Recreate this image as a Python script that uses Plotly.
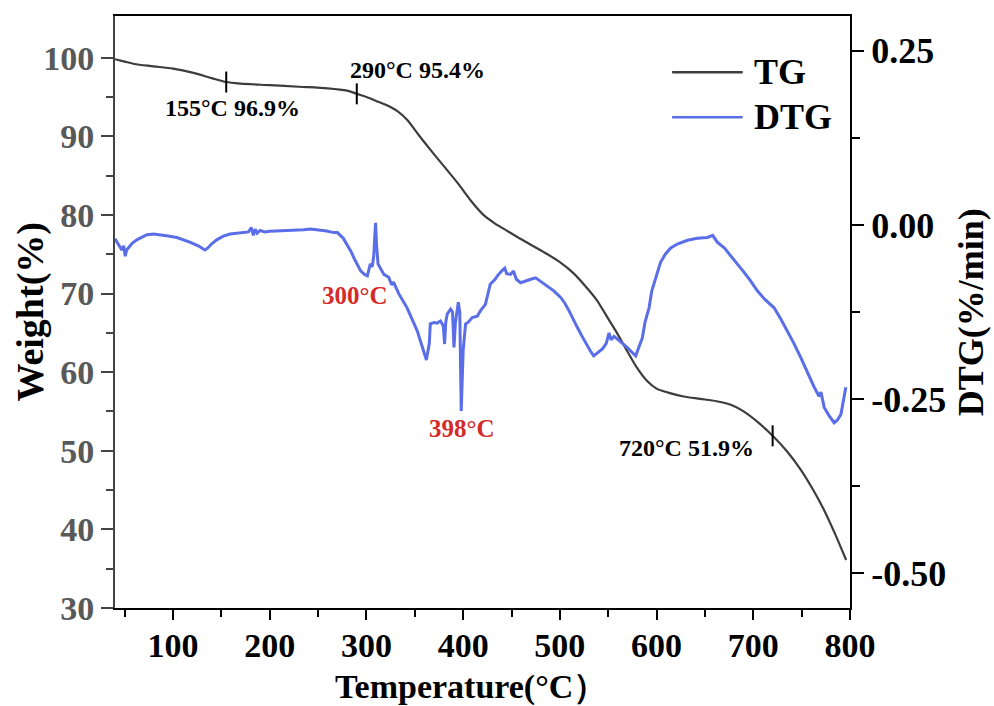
import plotly.graph_objects as go

# TG curve: temperature (°C) vs. residual weight (%)
tg_temp = [40, 50, 60, 80, 100, 120, 140, 155, 170, 200, 230, 260, 280, 290,
           300, 310, 320, 332, 342, 355, 366, 380, 394, 408, 421, 433, 445,
           460, 483, 500, 514, 526, 538, 550, 559, 570, 580, 590, 600, 612,
           628, 645, 662, 678, 690, 705, 720, 735, 749, 762, 773, 785, 796]
tg_weight = [99.8, 99.5, 99.2, 98.9, 98.6, 98.1, 97.4, 96.9, 96.7, 96.5, 96.3,
             96.1, 95.8, 95.4, 95.0, 94.5, 94.0, 93.2, 92.1, 90.0, 88.3, 86.2,
             84.1, 81.8, 80.0, 78.9, 78.0, 76.9, 75.3, 74.0, 72.6, 71.0, 69.2,
             66.8, 65.0, 62.6, 60.5, 58.9, 57.9, 57.4, 56.9, 56.6, 56.3, 55.8,
             55.0, 53.6, 51.9, 49.9, 47.6, 45.0, 42.5, 39.3, 36.1]

# DTG curve: temperature (°C) vs. rate of weight change (%/min)
dtg_temp = [40, 42, 45, 47, 49, 50.6, 52, 54, 58, 63, 68, 73, 80, 87, 95, 104,
            111, 118, 126, 133, 136, 140, 145.5, 152, 159, 166, 173, 178, 181,
            183, 185, 187, 190, 195, 200, 207.6, 215, 225, 235, 242, 250, 259,
            266, 270, 276, 280, 284, 288, 294, 298, 301, 304, 306, 307.5, 309.4,
            310.5, 312, 318, 323, 326, 328, 333.5, 342, 352.5, 358, 362, 365,
            366, 370, 373, 376.6, 379.5, 380.8, 382, 383.5, 387, 389, 390.5,
            392, 395, 396.5, 398, 400, 402.5, 405, 409.4, 414.6, 418, 423, 428,
            433, 436, 440, 443, 445, 449, 452, 455, 459.4, 465, 470, 475, 481,
            487, 494, 500.8, 505, 509.4, 513, 518, 523, 528.4, 532, 535, 540,
            544, 548, 550.8, 553, 556, 559.5, 565, 569.8, 574, 578.4, 581,
            585.3, 588, 592.2, 595, 599, 604, 609, 614.6, 622, 632, 642, 652.6,
            658, 663, 670, 676.7, 683, 690.5, 697, 704.4, 712, 721.5, 728,
            735.4, 742, 749, 756, 763, 768, 770, 773.3, 778, 783.6, 787, 790.6,
            793, 795.7]
dtg_rate = [-0.020, -0.025, -0.032, -0.036, -0.030, -0.045, -0.036, -0.033,
            -0.026, -0.021, -0.017, -0.014, -0.013, -0.014, -0.016, -0.018,
            -0.021, -0.025, -0.030, -0.036, -0.033, -0.027, -0.021, -0.016,
            -0.013, -0.012, -0.011, -0.010, -0.004, -0.015, -0.006, -0.012,
            -0.008, -0.010, -0.009, -0.0086, -0.009, -0.008, -0.007, -0.006,
            -0.007, -0.0086, -0.011, -0.011, -0.019, -0.028, -0.038, -0.050,
            -0.066, -0.071, -0.073, -0.056, -0.060, -0.045, 0.003, -0.030,
            -0.056, -0.071, -0.075, -0.086, -0.082, -0.099, -0.119, -0.152,
            -0.175, -0.194, -0.170, -0.142, -0.140, -0.141, -0.138, -0.145,
            -0.171, -0.140, -0.128, -0.121, -0.125, -0.176, -0.140, -0.111,
            -0.125, -0.267, -0.180, -0.142, -0.140, -0.133, -0.131, -0.123,
            -0.114, -0.085, -0.078, -0.072, -0.066, -0.062, -0.070, -0.071,
            -0.066, -0.078, -0.083, -0.080, -0.078, -0.076, -0.082, -0.088,
            -0.095, -0.104, -0.112, -0.123, -0.134, -0.147, -0.160, -0.174,
            -0.182, -0.188, -0.183, -0.178, -0.170, -0.155, -0.165, -0.160,
            -0.164, -0.170, -0.176, -0.182, -0.188, -0.178, -0.162, -0.140,
            -0.119, -0.095, -0.076, -0.054, -0.042, -0.033, -0.027, -0.022,
            -0.019, -0.018, -0.015, -0.025, -0.033, -0.044, -0.055, -0.068,
            -0.080, -0.095, -0.107, -0.119, -0.134, -0.152, -0.170, -0.190,
            -0.212, -0.233, -0.246, -0.240, -0.262, -0.273, -0.284, -0.280,
            -0.272, -0.255, -0.233]

# Marked points on the TG curve
mark_temp = [155, 290, 720]
mark_weight = [96.9, 95.4, 51.9]

# Marked DTG peaks
peak_temp = [300, 398]

# Right-axis ticks (plain hyphen for the minus sign)
dtg_tickvals = [0.25, 0.0, -0.25, -0.50]
dtg_ticktext = ["0.25", "0.00", "-0.25", "-0.50"]

TG_COLOR = "#3d3d3d"
DTG_COLOR = "#5a6ee8"
FONT = "Liberation Serif"

fig = go.Figure()

fig.add_trace(go.Scatter(
    x=dtg_temp, y=dtg_rate, mode="lines", name="DTG", yaxis="y2",
    line=dict(color=DTG_COLOR, width=3), showlegend=False))

fig.add_trace(go.Scatter(
    x=tg_temp, y=tg_weight, mode="lines", name="TG",
    line=dict(color=TG_COLOR, width=2.2, shape="spline", smoothing=0.8),
    showlegend=False))

fig.add_trace(go.Scatter(
    x=mark_temp, y=mark_weight, mode="markers", showlegend=False,
    marker=dict(symbol="line-ns", size=15, line=dict(width=2, color="black"))))

# Point labels on the TG curve
label_pos = [(161, 93.6), (353, 98.4), (631, 50.4)]
for (t, w), (lx, ly) in zip(zip(mark_temp, mark_weight), label_pos):
    fig.add_annotation(x=lx, y=ly, text=f"{t}°C {w}%", showarrow=False,
                       font=dict(family=FONT, size=24, color="black", weight="bold"))

# Peak labels for DTG
peak_pos = [(288, 69.7), (399, 52.8)]
for t, (lx, ly) in zip(peak_temp, peak_pos):
    fig.add_annotation(x=lx, y=ly, text=f"{t}°C", showarrow=False,
                       font=dict(family=FONT, size=25, color="#d42a2a", weight="bold"))

# Legend drawn as line samples + labels
legend_items = [("TG", TG_COLOR, 0.905), ("DTG", DTG_COLOR, 0.829)]
for name, color, ly in legend_items:
    fig.add_shape(type="line", xref="paper", yref="paper",
                  x0=0.758, x1=0.854, y0=ly, y1=ly,
                  line=dict(color=color, width=2.4))
    fig.add_annotation(xref="paper", yref="paper", x=0.866, y=ly,
                       xanchor="left", yanchor="middle", text=name,
                       showarrow=False,
                       font=dict(family=FONT, size=36, color="black", weight="bold"))

# Axis titles
fig.add_annotation(xref="paper", yref="paper", x=0.485, y=-0.1335,
                   xanchor="center", yanchor="middle", text="Temperature(°C）",
                   showarrow=False,
                   font=dict(family=FONT, size=34, color="black", weight="bold"))
fig.add_annotation(xref="paper", yref="paper", x=-0.115, y=0.50,
                   xanchor="center", yanchor="middle", text="Weight(%)",
                   textangle=-90, showarrow=False,
                   font=dict(family=FONT, size=38, color="black", weight="bold"))
fig.add_annotation(xref="paper", yref="paper", x=1.165, y=0.50,
                   xanchor="center", yanchor="middle", text="DTG(%/min)",
                   textangle=-90, showarrow=False,
                   font=dict(family=FONT, size=36, color="black", weight="bold"))

fig.update_layout(
    width=994, height=706,
    margin=dict(l=115, r=144, t=16, b=98),
    paper_bgcolor="white", plot_bgcolor="white",
    font=dict(family=FONT),
    xaxis=dict(
        range=[40, 800], dtick=100, tick0=0,
        showgrid=False, zeroline=False,
        showline=True, linecolor="black", linewidth=2, mirror=True,
        ticks="outside", ticklen=10, tickwidth=2, tickcolor="black",
        ticklabelstandoff=-4,
        minor=dict(dtick=50, tick0=0, ticks="outside", ticklen=7,
                   tickwidth=2, tickcolor="black"),
        tickfont=dict(family=FONT, size=34, color="black", weight="bold"),
    ),
    yaxis=dict(
        range=[30, 105.3], dtick=10, tick0=0,
        showgrid=False, zeroline=False,
        showline=True, linecolor="#444444", linewidth=2,
        ticks="outside", ticklen=12, tickwidth=2, tickcolor="#444444",
        minor=dict(tickmode="array", tickvals=[35, 45, 55, 65, 75, 85, 95],
                   ticks="outside", ticklen=7, tickwidth=2, tickcolor="#444444"),
        tickfont=dict(family=FONT, size=34, color="#595959", weight="bold"),
    ),
    yaxis2=dict(
        overlaying="y", side="right",
        range=[-0.55, 0.30], tickmode="array",
        tickvals=dtg_tickvals, ticktext=dtg_ticktext,
        showgrid=False, zeroline=False,
        showline=True, linecolor="black", linewidth=2,
        ticks="outside", ticklen=12, tickwidth=2, tickcolor="black",
        minor=dict(tickmode="array", tickvals=[0.125, -0.125, -0.375],
                   ticks="outside", ticklen=8, tickwidth=2, tickcolor="black"),
        tickfont=dict(family=FONT, size=36, color="black", weight="bold"),
    ),
)

fig.write_html("out.html")
